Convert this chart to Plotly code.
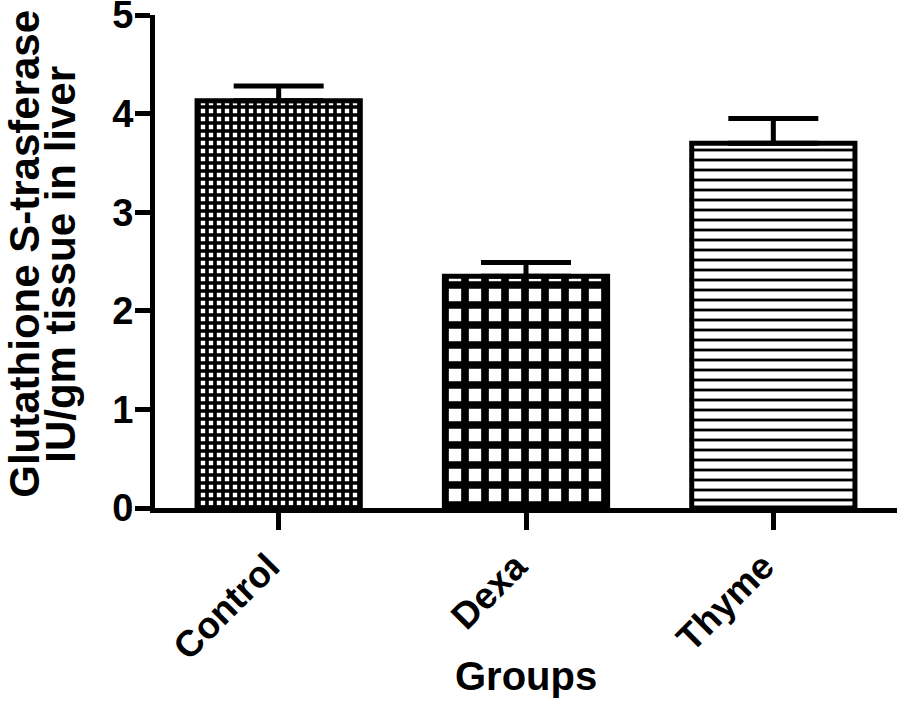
import plotly.graph_objects as go

groups = ["Control", "Dexa", "Thyme"]
means = [4.13, 2.35, 3.70]
sem = [0.15, 0.14, 0.25]
y_ticks = [0, 1, 2, 3, 4, 5]

patterns = [
    {"shape": "+", "size": 8, "solidity": 0.7},
    {"shape": "+", "size": 20, "solidity": 0.62},
    {"shape": "-", "size": 10, "solidity": 0.28},
]

FONT = "Liberation Sans, Arial, sans-serif"

fig = go.Figure()
for g, m, e, p in zip(groups, means, sem, patterns):
    fig.add_trace(
        go.Bar(
            x=[g],
            y=[m],
            width=0.66,
            marker={
                "color": "white",
                "line": {"color": "black", "width": 5},
                "pattern": {**p, "fgcolor": "black", "bgcolor": "white", "fillmode": "replace"},
            },
            error_y={
                "type": "data",
                "symmetric": False,
                "array": [e],
                "arrayminus": [0],
                "color": "black",
                "thickness": 5,
                "width": 45,
            },
            showlegend=False,
        )
    )

fig.update_layout(
    width=897,
    height=720,
    plot_bgcolor="white",
    paper_bgcolor="white",
    margin={"l": 155, "r": 0, "t": 15, "b": 212},
    font={"family": FONT, "color": "black", "size": 36},
)
fig.update_xaxes(
    range=[-0.5, 2.5],
    automargin=False,
    showline=True,
    linecolor="black",
    linewidth=5,
    ticks="outside",
    ticklen=17,
    tickwidth=5,
    tickcolor="black",
    tickangle=-45,
    tickfont={"size": 37},
    tickvals=groups,
    ticktext=[f"<b>{g}</b>" for g in groups],
    ticklabelshift=-10,
    ticklabeloverflow="allow",
    showgrid=False,
)
fig.update_yaxes(
    range=[0, 5],
    automargin=False,
    tickvals=y_ticks,
    ticktext=[f"<b>{v}</b>" for v in y_ticks],
    ticklabeloverflow="allow",
    ticklabelstandoff=-6,
    showline=True,
    linecolor="black",
    linewidth=5,
    ticks="outside",
    ticklen=15,
    tickwidth=5,
    tickcolor="black",
    tickfont={"size": 38},
    showgrid=False,
    zeroline=False,
)

fig.add_annotation(
    text="<b>Groups</b>", xref="paper", yref="paper", x=0.5, y=-0.34,
    showarrow=False, font={"size": 40}, yanchor="middle",
)
fig.add_annotation(
    text="<b>Glutathione S-trasferase</b>", xref="paper", yref="paper", x=-0.177, y=0.515,
    showarrow=False, textangle=-90, font={"size": 42}, xanchor="center", yanchor="middle",
)
fig.add_annotation(
    text="<b>IU/gm tissue in liver</b>", xref="paper", yref="paper", x=-0.127, y=0.495,
    showarrow=False, textangle=-90, font={"size": 42}, xanchor="center", yanchor="middle",
)

# page body has a default 8px margin; drop it so the figure sits at the corner
fig.write_html(
    "out.html",
    config={"displayModeBar": False},
    post_script="document.body.style.margin = '0';",
)
